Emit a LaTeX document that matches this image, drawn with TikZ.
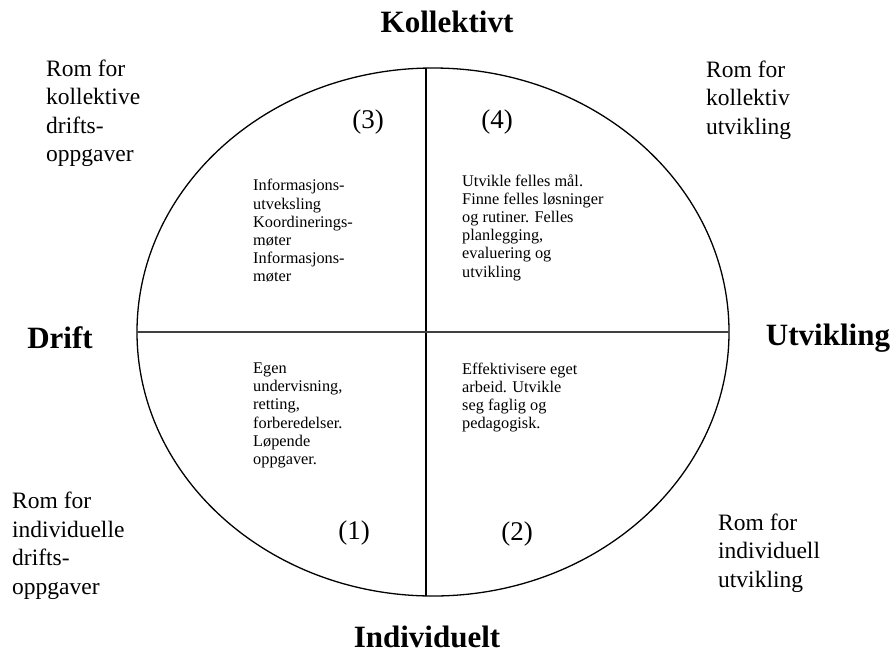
\documentclass[tikz,border=0pt]{standalone}
\usepackage{fontspec}
\setmainfont{Liberation Serif}
\begin{document}
\begin{tikzpicture}[x=1pt,y=-1pt,
  axislabel/.style={font=\fontsize{31}{33}\selectfont\bfseries, inner sep=0pt},
  roomtext/.style={font=\fontsize{23.5}{28.5}\selectfont, align=left, anchor=west, inner sep=0pt},
  qnum/.style={font=\fontsize{27}{29}\selectfont, inner sep=0pt},
  qtext/.style={font=\fontsize{16.3}{18.2}\selectfont, align=left, anchor=west, inner sep=0pt},
  frame/.style={line width=1.3pt, draw=black}]
\useasboundingbox[fill=white] (0,0) rectangle (896,662);

% the oval and its two axes
\coordinate (c) at (433,332);
\draw[frame] (c) ellipse [x radius=296, y radius=264];
\coordinate (top) at (426,68);
\coordinate (bottom) at (426,596);
\coordinate (left) at (137,332);
\coordinate (right) at (729,332);
\draw[frame] (top) -- (bottom);
\draw[frame, draw=black!75] (left) -- (right);

% axis labels
\node[axislabel] (kol) at (447,22) {Kollektivt};
\node[axislabel] (ind) at (427,637) {Individuelt};
\node[axislabel] (dri) at (60,338) {Drift};
\node[axislabel] (utv) at (828,338) {Utvikling};

% corner captions
\node[roomtext] (r3) at (46,113.5) {Rom for\\kollektive\\drifts-\\oppgaver};
\node[roomtext] (r4) at (706,100) {Rom for\\kollektiv\\utvikling};
\node[roomtext] (r1) at (12,546) {Rom for\\individuelle\\drifts-\\oppgaver};
\node[roomtext] (r2) at (718,553) {Rom for\\individuell\\utvikling};

% quadrant numbers
\node[qnum] (n3) at (368,122) {(3)};
\node[qnum] (n4) at (497,122) {(4)};
\node[qnum] (n1) at (354,533) {(1)};
\node[qnum] (n2) at (517,534) {(2)};

% quadrant contents
\node[qtext] (q3) at (253,231) {Informasjons-\\utveksling\\Koordinerings-\\møter\\Informasjons-\\møter};
\node[qtext] (q4) at (462,227.5) {Utvikle felles mål.\\Finne felles løsninger\\og rutiner. Felles\\planlegging,\\evaluering og\\utvikling};
\node[qtext] (q1) at (253,415.5) {Egen\\undervisning,\\retting,\\forberedelser.\\Løpende\\oppgaver.};
\node[qtext] (q2) at (462,397.5) {Effektivisere eget\\arbeid. Utvikle\\seg faglig og\\pedagogisk.};
\end{tikzpicture}
\end{document}
